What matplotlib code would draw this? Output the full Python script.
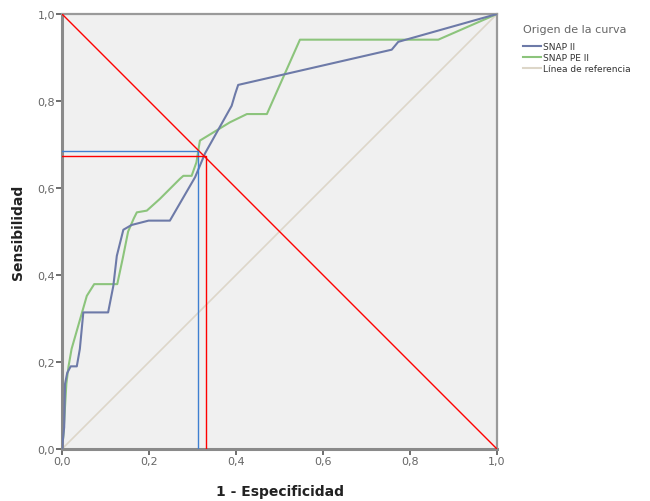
import numpy as np
import matplotlib.pyplot as plt
from matplotlib.lines import Line2D
from matplotlib.ticker import FuncFormatter

# ROC curves (1 - specificity, sensitivity)
snap2_x = [0, 0.005, 0.007, 0.012, 0.02, 0.034, 0.041, 0.049, 0.106, 0.118, 0.126,
           0.141, 0.16, 0.199, 0.248, 0.306, 0.329, 0.39, 0.398, 0.405, 0.758, 0.773, 1.0]
snap2_y = [0, 0.05, 0.15, 0.175, 0.19, 0.19, 0.23, 0.314, 0.314, 0.375, 0.444,
           0.504, 0.515, 0.525, 0.525, 0.625, 0.68, 0.789, 0.816, 0.837, 0.918, 0.936, 1.0]

snappe2_x = [0, 0.003, 0.01, 0.015, 0.022, 0.057, 0.074, 0.127, 0.14, 0.152, 0.165,
             0.172, 0.195, 0.225, 0.271, 0.279, 0.298, 0.309, 0.317, 0.386, 0.425,
             0.471, 0.547, 0.865, 1.0]
snappe2_y = [0, 0.03, 0.15, 0.19, 0.23, 0.352, 0.379, 0.379, 0.44, 0.5, 0.53,
             0.544, 0.548, 0.575, 0.621, 0.628, 0.628, 0.659, 0.709, 0.751, 0.77,
             0.77, 0.941, 0.941, 1.0]

# cut-off points marked with lines
cut_snap2 = (0.313, 0.684)
cut_snappe2 = (0.331, 0.673)

ticks = [0, 0.2, 0.4, 0.6, 0.8, 1.0]

fig = plt.figure(figsize=(6.5, 5.02), dpi=100)
ax = fig.add_axes([0.0954, 0.1036, 0.6692, 0.8665])
ax.set_facecolor('#f0f0f0')

ax.plot([0, 1], [0, 1], color='#ddd6c8', lw=1.2, zorder=1)
ax.plot(snappe2_x, snappe2_y, color='#8cc47c', lw=1.5, zorder=2)
ax.plot(snap2_x, snap2_y, color='#6d7aa8', lw=1.5, zorder=3)

# diagonal and cut-off lines
ax.plot([0, 1], [1, 0], color='red', lw=1, zorder=4)
ax.plot([0, cut_snap2[0], cut_snap2[0]], [cut_snap2[1], cut_snap2[1], 0],
        color='#3f7fd0', lw=1, zorder=4)
ax.plot([0, cut_snappe2[0], cut_snappe2[0]], [cut_snappe2[1], cut_snappe2[1], 0],
        color='red', lw=1, zorder=4)

ax.set_xlim(0, 1)
ax.set_ylim(0, 1)
ax.set_xticks(ticks)
ax.set_yticks(ticks)
fmt = FuncFormatter(lambda v, p: f'{v:.1f}'.replace('.', ','))
ax.xaxis.set_major_formatter(fmt)
ax.yaxis.set_major_formatter(fmt)
ax.tick_params(direction='out', length=4, width=1.2, color='#555555',
               labelsize=8, labelcolor='#666666', pad=1)

for side in ['left', 'bottom']:
    ax.spines[side].set_linewidth(2.2)
    ax.spines[side].set_color('#8a8a8a')
for side in ['top', 'right']:
    ax.spines[side].set_linewidth(1.6)
    ax.spines[side].set_color('#9a9a9a')

ax.set_xlabel('1 - Especificidad', fontsize=10, fontweight='bold', color='#222222', labelpad=13)
ax.set_ylabel('Sensibilidad', fontsize=10, fontweight='bold', color='#222222', labelpad=9)

# legend: title as plain text, items below it
fig.text(523 / 650, 1 - 30 / 502, 'Origen de la curva', fontsize=8, color='#666666',
         ha='left', va='center')
handles = [Line2D([], [], color='#6d7aa8', lw=1.5),
           Line2D([], [], color='#8cc47c', lw=1.5),
           Line2D([], [], color='#ddd6c8', lw=1.5)]
labels = ['SNAP II', 'SNAP PE II', 'Línea de referencia']
leg = fig.legend(handles, labels, loc='upper left',
                 bbox_to_anchor=(0.799, 0.922), frameon=False, fontsize=6.5,
                 handlelength=2.0, handletextpad=0.2,
                 labelspacing=0.25, borderaxespad=0)
for t in leg.get_texts():
    t.set_color('#333333')

fig.savefig('out.png', dpi=100)
